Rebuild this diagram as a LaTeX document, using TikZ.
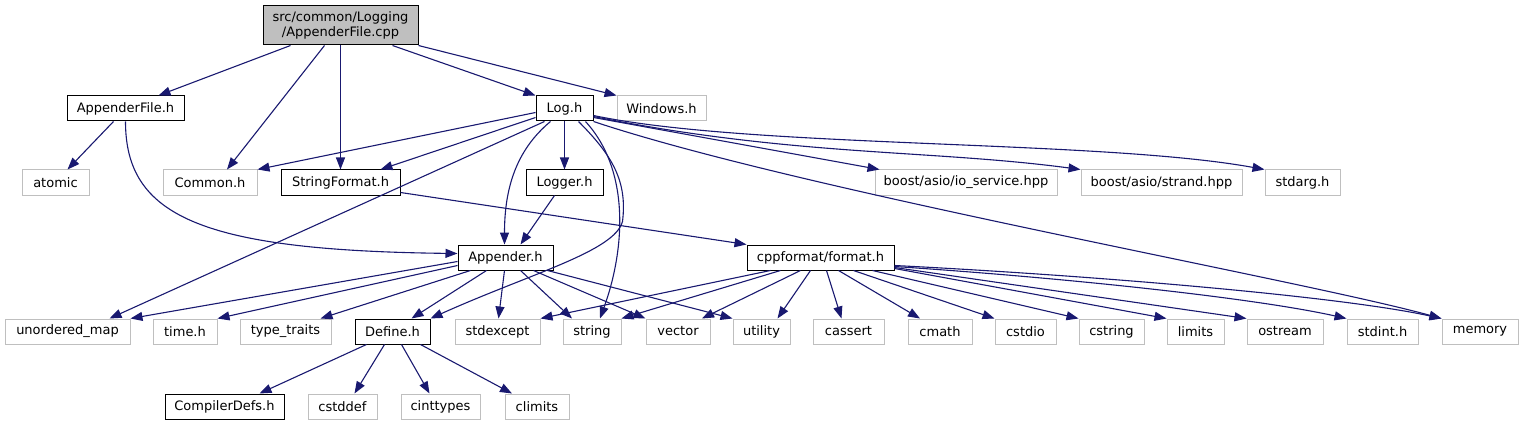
\documentclass[tikz,border=0pt]{standalone}
\usepackage{fontspec}
\setmainfont{DejaVu Sans}
\usetikzlibrary{arrows.meta}
\definecolor{edgeblue}{HTML}{191970}
\definecolor{boxgray}{HTML}{BFBFBF}
\newcommand{\filebox}[6]{
	\node[#6, minimum width=#4] (#1) at (#2,#3) {#5};
}

\begin{document}
\begin{tikzpicture}[x=1pt,y=-1pt,
	userfile/.style={draw=black,line width=1pt,minimum height=25pt,inner sep=0pt,font=\fontsize{13}{15.5}\selectfont},
	sysfile/.style={userfile,draw=boxgray},
	dep/.style={draw=edgeblue,line width=1.1pt,-{Triangle[length=12pt,width=9pt]}}]
	\useasboundingbox (0,0) rectangle (1524,425);
	\node[userfile,fill=boxgray,minimum width=155,minimum height=39,align=center] (root) at (340.5,25.5) {src/common/Logging\\/AppenderFile.cpp};
	\filebox{afh}{125.5}{108.5}{117}{AppenderFile.h}{userfile}
	\filebox{logh}{564.5}{108.5}{57}{Log.h}{userfile}
	\filebox{win}{661.5}{108.5}{89}{Windows.h}{sysfile}
	\filebox{atomic}{55.5}{182.5}{67}{atomic}{sysfile}
	\filebox{common}{210}{182.5}{94}{Common.h}{sysfile}
	\filebox{sfmt}{340.5}{182.5}{119}{StringFormat.h}{userfile}
	\filebox{logger}{564.5}{182.5}{77}{Logger.h}{userfile}
	\filebox{io}{966}{182.5}{182}{boost/asio/io\_service.hpp}{sysfile}
	\filebox{strand}{1161.5}{182.5}{161}{boost/asio/strand.hpp}{sysfile}
	\filebox{stdarg}{1302.5}{182.5}{75}{stdarg.h}{sysfile}
	\filebox{app}{505.5}{257.5}{95}{Appender.h}{userfile}
	\filebox{fmt}{820.5}{257.5}{147}{cppformat/format.h}{userfile}
	\filebox{define}{392.5}{331.5}{75}{Define.h}{userfile}
	\foreach \nm/\x/\w/\txt in {umap/67.5/125/unordered\_map, timeh/185/64/time.h, ttraits/285.5/91/type\_traits,
		stdexc/497.5/85/stdexcept, string/592/58/string, vector/678/64/vector, utility/761.5/57/utility,
		cassert/848.5/71/cassert, cmath/940/64/cmath, cstdio/1025.5/61/cstdio, cstring/1111.5/65/cstring,
		limits/1195.5/57/limits, ostream/1285/76/ostream, stdint/1382.5/71/stdint.h, memory/1480/76/memory} {
		\filebox{\nm}{\x}{331.5}{\w}{\txt}{sysfile}
	}
	\filebox{cdefs}{224.5}{406.5}{119}{CompilerDefs.h}{userfile}
	\foreach \nm/\x/\w in {cstddef/342.5/69, cinttypes/440.5/79, climits/537/64} {
		\filebox{\nm}{\x}{406.5}{\w}{\nm}{sysfile}
	}

	\draw[dep] ([xshift=-50]root.south) -- ([xshift=33]afh.north);
	\draw[dep] ([xshift=-16]root.south) -- ([xshift=17]common.north);
	\draw[dep] (root.south) -- (sfmt.north);
	\draw[dep] ([xshift=52]root.south) -- (logh.north west);
	\draw[dep] (root.south east) -- (win.north west);

	\draw[dep] ([xshift=-12]afh.south) -- ([xshift=12]atomic.north);
	\draw[dep] (afh.south) .. controls +(0,94) and +(-258,-3) .. ([yshift=4]app.west);

	\draw[dep] ([yshift=-4]logh.west) -- (common.north east);
	\draw[dep] ([yshift=-9]logh.west) -- ([xshift=40]sfmt.north);
	\draw[dep] ([xshift=-20]logh.south) -- ([xshift=42]umap.north);
	\draw[dep] ([xshift=-14]logh.south) .. controls +(-35,29) and +(0,-55) .. ([xshift=-1]app.north);
	\draw[dep] (logh) -- (logger);
	\draw[dep] ([xshift=14]logh.south) .. controls +(34,34) and +(5,-40) .. ++(44,100) .. controls +(-8,30) and +(100,-45) .. (define.north east);
	\draw[dep] ([xshift=21]logh.south) .. controls +(45,49) and +(25,-69) .. ([xshift=8]string.north);
	\draw[dep] ([yshift=-9]logh.east) -- ([xshift=5]io.north west);
	\draw[dep] ([yshift=-8]logh.east) .. controls +(200,40) and +(-150,-20) .. (strand.north west);
	\draw[dep] ([yshift=-7]logh.east) .. controls +(157,33) and +(-165,-30) .. (stdarg.north west);
	\draw[dep] (logh.south east) .. controls +(207,69) and +(-142,-39) .. (memory.north west);

	\draw[dep] ([yshift=3]sfmt.south east) -- (fmt.north west);
	\draw[dep] ([xshift=-10]logger.south) -- ([xshift=15]app.north);

	\draw[dep] ([yshift=-4]app.west) -- (umap.north east);
	\draw[dep] ([yshift=-8]app.west) -- (timeh.north east);
	\foreach \s/\e/\t in {-35/35/ttraits.north, -19/19/define.north, -1/1/stdexc.north, 15/-20/string.north, 28/0/vector.north west, 42/0/utility.north west}
		\draw[dep] ([xshift=\s]app.south) -- ([xshift=\e]\t);

	\foreach \s/\e/\t in {-26/35/cdefs, -8/12/cstddef, 9/-11/cinttypes, 28/-25/climits}
		\draw[dep] ([xshift=\s]define.south) -- ([xshift=\e]\t.north);

	\foreach \s/\e/\t in {-50/0/stdexc.north east, -40/0/string.north east, -20/24/vector.north, -10/16/utility.north, 6/-7/cassert.north, 18/-20/cmath.north, 33/0/cstdio.north west, 52/0/cstring.north west}
		\draw[dep] ([xshift=\s]fmt.south) -- ([xshift=\e]\t);
	\draw[dep] ([yshift=-11]fmt.east) -- (limits.north west);
	\draw[dep] ([yshift=-10]fmt.east) -- (ostream.north west);
	\draw[dep] ([yshift=-9]fmt.east) .. controls +(180,12) and +(-90,-20) .. (stdint.north west);
	\draw[dep] ([yshift=-8]fmt.east) .. controls +(200,10) and +(-100,-22) .. (memory.north west);
\end{tikzpicture}
\end{document}
